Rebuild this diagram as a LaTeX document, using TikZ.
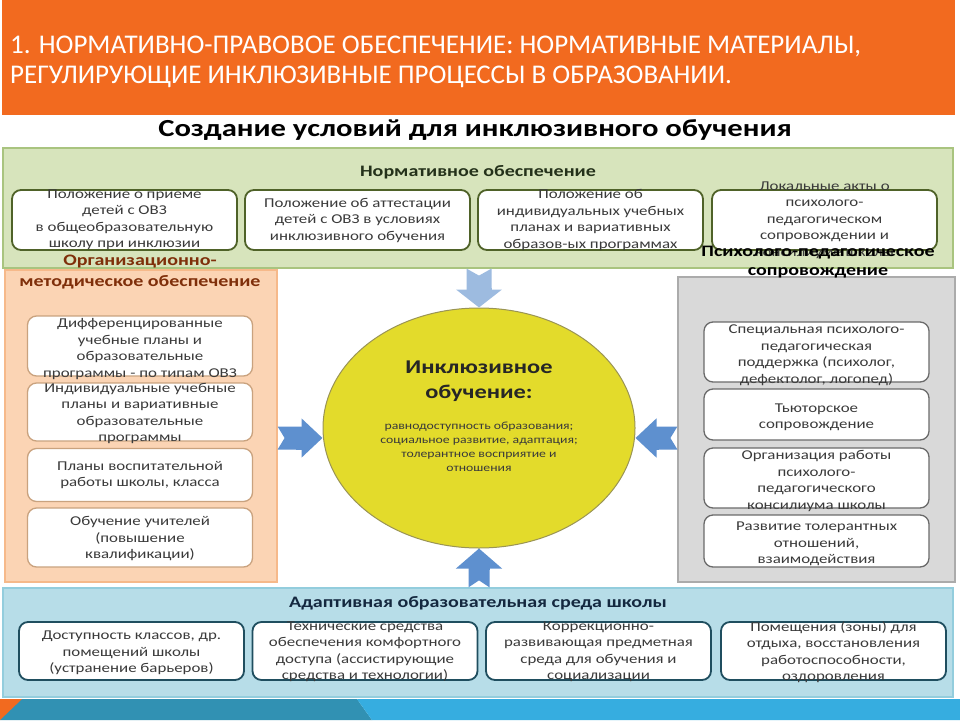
\documentclass[tikz,border=0pt]{standalone}
\usepackage{fontspec}
\setmainfont{Carlito}
\newfontfamily\widefont{Carlito}[FakeStretch=1.25]
\usetikzlibrary{arrows.meta, positioning, shapes.geometric}

\definecolor{headorange}{HTML}{F26A1F}
\definecolor{normfill}{HTML}{D7E4BC}
\definecolor{normline}{HTML}{A9C47F}
\definecolor{normbox}{HTML}{4F6228}
\definecolor{normink}{HTML}{24311A}
\definecolor{orgfill}{HTML}{FBD4B4}
\definecolor{orgline}{HTML}{F6B98A}
\definecolor{orgbox}{HTML}{C9A27E}
\definecolor{orgink}{HTML}{7F2F0A}
\definecolor{psyfill}{HTML}{D9D9D9}
\definecolor{psyline}{HTML}{ABABAB}
\definecolor{psybox}{HTML}{6A6A6A}
\definecolor{adaptfill}{HTML}{B7DDE8}
\definecolor{adaptline}{HTML}{93CDDD}
\definecolor{adaptbox}{HTML}{1F4E5F}
\definecolor{adaptink}{HTML}{14283F}
\definecolor{coreyellow}{HTML}{E3DB2B}
\definecolor{coreline}{HTML}{9A9455}
\definecolor{flowblue}{HTML}{5E90CF}
\definecolor{flowpale}{HTML}{9DBBE0}
\definecolor{textgray}{HTML}{3A3A3A}
\definecolor{stripteal}{HTML}{3191B3}
\definecolor{stripblue}{HTML}{36ADE0}

\begin{document}
\begin{tikzpicture}[
        x=1pt, y=-1pt,
        panel/.style={rectangle, line width=1.2pt, inner sep=0pt},
        itembox/.style={rectangle, rounded corners=9pt, fill=white, line width=1.8pt, minimum width=225pt, inner sep=0pt},
        itemtext/.style={text=textgray, align=center, inner sep=0pt, font=\widefont\fontsize{13.5}{16.5}\selectfont},
        paneltitle/.style={align=center, inner sep=0pt, font=\widefont\bfseries\fontsize{16}{20}\selectfont},
        flow/.style={draw=flowblue, line width=23pt, {Triangle Cap[reversed, length=7pt]}-{Triangle[width=38pt, length=21pt]}},
    ]
        \useasboundingbox (0,0) rectangle (960,720);
        \fill[white] (0,0) rectangle (960,720);

        % header
        \fill[headorange] (2,0) rectangle (955,115);
        \node[anchor=west, align=left, text=white, inner sep=0pt, font=\fontsize{27}{30}\selectfont] (headline) at (10,62)
            {1. НОРМАТИВНО-ПРАВОВОЕ ОБЕСПЕЧЕНИЕ: НОРМАТИВНЫЕ МАТЕРИАЛЫ,\\РЕГУЛИРУЮЩИЕ ИНКЛЮЗИВНЫЕ ПРОЦЕССЫ В ОБРАЗОВАНИИ.};
        \node[inner sep=0pt, font=\widefont\bfseries\fontsize{24.5}{28}\selectfont] (maintitle) at (475,130) {Создание условий для инклюзивного обучения};

        % panels
        \node[panel, fill=normfill, draw=normline, minimum width=950pt, minimum height=120pt] (normpanel) at (478,208) {};
        \node[panel, fill=orgfill, draw=orgline, minimum width=272pt, minimum height=312pt] (orgpanel) at (141,426) {};
        \node[panel, fill=psyfill, draw=psyline, minimum width=277pt, minimum height=305pt] (psypanel) at (816.5,429.5) {};
        \node[panel, fill=adaptfill, draw=adaptline, minimum width=950pt, minimum height=109pt] (adaptpanel) at (478,642.5) {};

        % normative boxes
        \node[itembox, draw=normbox, minimum height=60pt] (norm1) at (124.5,220) {};
        \node[itembox, draw=normbox, minimum height=60pt] (norm2) at (357.5,220) {};
        \node[itembox, draw=normbox, minimum height=60pt] (norm3) at (590.5,220) {};
        \node[itembox, draw=normbox, minimum height=60pt] (norm4) at (824.5,220) {};
        \node[itemtext] at (norm1) {Положение о приеме\\детей с ОВЗ\\в общеобразовательную\\школу при инклюзии};
        \node[itemtext] at (norm2) {Положение об аттестации\\детей с ОВЗ в условиях\\инклюзивного обучения};
        \node[itemtext] at (norm3) {Положение об\\индивидуальных учебных\\планах и вариативных\\образов-ых программах};
        \node[itemtext] at (norm4) {Локальные акты о\\психолого-\\педагогическом\\сопровождении и\\консилиуме школы};

        % organisational boxes
        \node[itembox, draw=orgbox, line width=1.3pt, minimum height=60pt] (org1) at (140,346) {};
        \node[itembox, draw=orgbox, line width=1.3pt, minimum height=58pt] (org2) at (140,412) {};
        \node[itembox, draw=orgbox, line width=1.3pt, minimum height=53pt] (org3) at (140,475) {};
        \node[itembox, draw=orgbox, line width=1.3pt, minimum height=59pt] (org4) at (140,537.5) {};
        \node[itemtext] at ([yshift=-3pt]org1) {Дифференцированные\\учебные планы и\\образовательные\\программы - по типам ОВЗ};
        \node[itemtext] at ([yshift=-1.5pt]org2) {Индивидуальные учебные\\планы и вариативные\\образовательные\\программы};
        \node[itemtext] at (org3) {Планы воспитательной\\работы школы, класса};
        \node[itemtext] at ([yshift=-1.5pt]org4) {Обучение учителей\\(повышение\\квалификации)};

        % support boxes
        \node[itembox, draw=psybox, line width=1.3pt, minimum height=60pt] (psy1) at (816.5,352) {};
        \node[itembox, draw=psybox, line width=1.3pt, minimum height=51pt] (psy2) at (816.5,414.5) {};
        \node[itembox, draw=psybox, line width=1.3pt, minimum height=60pt] (psy3) at (816.5,478) {};
        \node[itembox, draw=psybox, line width=1.3pt, minimum height=52pt] (psy4) at (816.5,541) {};
        \node[itemtext] at ([yshift=-3pt]psy1) {Специальная психолого-\\педагогическая\\поддержка (психолог,\\дефектолог, логопед)};
        \node[itemtext] at ([yshift=-3pt]psy2) {Тьюторское\\сопровождение};
        \node[itemtext] at ([yshift=-3pt]psy3) {Организация  работы\\психолого-\\педагогического\\консилиума школы};
        \node[itemtext] at ([yshift=-3pt]psy4) {Развитие толерантных\\отношений,\\взаимодействия};

        % environment boxes
        \node[itembox, draw=adaptbox, minimum height=58pt] (adapt1) at (131.5,651) {};
        \node[itembox, draw=adaptbox, minimum height=58pt] (adapt2) at (365,651) {};
        \node[itembox, draw=adaptbox, minimum height=58pt] (adapt3) at (598.5,651) {};
        \node[itembox, draw=adaptbox, minimum height=58pt] (adapt4) at (833.5,651) {};
        \node[itemtext] at ([yshift=-2pt]adapt1) {Доступность классов, др.\\помещений школы\\(устранение барьеров)};
        \node[itemtext] at ([yshift=-1pt]adapt2) {Технические средства\\обеспечения комфортного\\доступа (ассистирующие\\средства и технологии)};
        \node[itemtext] at ([yshift=-1pt]adapt3) {Коррекционно-\\развивающая предметная\\среда для обучения и\\социализации};
        \node[itemtext] at ([yshift=-1pt]adapt4) {Помещения (зоны) для\\отдыха, восстановления\\работоспособности,\\оздоровления};

        % panel titles
        \node[paneltitle, text=normink] (normtitle) at (478,172) {Нормативное обеспечение};
        \node[paneltitle, text=orgink, font=\widefont\bfseries\fontsize{16}{21}\selectfont] (orgtitle) at (140,272.5) {Организационно-\\методическое обеспечение};
        \node[paneltitle, font=\widefont\bfseries\fontsize{16}{19}\selectfont] (psytitle) at (818,262.5) {Психолого-педагогическое\\сопровождение};
        \node[paneltitle, text=adaptink] (adapttitle) at (478,603) {Адаптивная образовательная среда школы};

        % centre
        \node[ellipse, fill=coreyellow, draw=coreline, line width=1pt, minimum width=312pt, minimum height=240pt, inner sep=0pt] (core) at (479,428) {};
        \node[align=center, inner sep=0pt, text=black!85, font=\widefont\bfseries\fontsize{19.5}{24.5}\selectfont] (coretitle) at (479,381) {Инклюзивное\\обучение:};
        \node[align=center, inner sep=0pt, text=textgray, font=\widefont\fontsize{11}{14}\selectfont] (corenote) at (479,447)
            {равнодоступность образования;\\социальное развитие, адаптация;\\толерантное восприятие и\\отношения};

        \coordinate (leftin) at ([yshift=-10pt]core.west);
        \coordinate (rightin) at ([yshift=-10pt]core.east);
        \draw[flow, draw=flowpale, line width=25pt, {Triangle Cap[reversed, length=7pt]}-{Triangle[width=45pt, length=18pt]}] (normpanel.south -| core.north) -- (core.north);
        \draw[flow] (orgpanel.east |- leftin) -- (leftin);
        \draw[flow] (psypanel.west |- rightin) -- (rightin);
        \draw[flow, line width=21pt, {Triangle Cap[reversed, length=7pt]}-{Triangle[width=45pt, length=20pt]}] (adaptpanel.north -| core.south) -- (core.south);

        % bottom strip
        \fill[stripteal] (0,699) -- (357,699) -- (372,720) -- (0,720) -- cycle;
        \fill[stripblue] (357,699) -- (960,699) -- (960,720) -- (372,720) -- cycle;
        \fill[headorange] (0,699) -- (22,699) -- (0,720) -- cycle;
    \end{tikzpicture}
\end{document}
